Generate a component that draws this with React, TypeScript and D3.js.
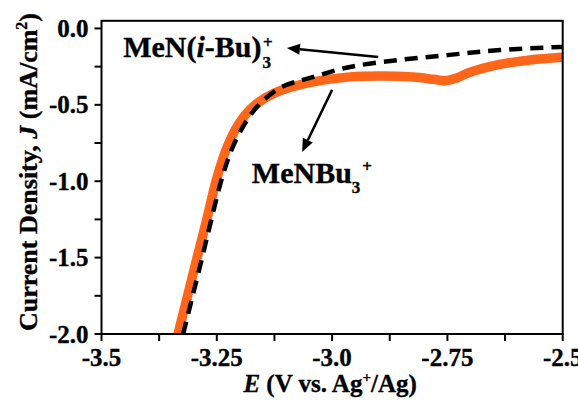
import { useEffect, useRef } from 'react';
import * as d3 from 'd3';

// MeNBu3+ (orange, solid)
const buPotential = [-3.334, -3.294, -3.272, -3.251, -3.230, -3.204, -3.172, -3.124, -3.052, -2.961, -2.895, -2.825, -2.78, -2.755, -2.73, -2.707, -2.642, -2.571, -2.501];
const buCurrent = [-2.0, -1.515, -1.253, -0.992, -0.795, -0.632, -0.514, -0.422, -0.357, -0.317, -0.311, -0.318, -0.333, -0.342, -0.325, -0.293, -0.239, -0.206, -0.188];

// MeN(i-Bu)3+ (black, dashed)
const iBuPotential = [-3.323, -3.283, -3.262, -3.240, -3.218, -3.191, -3.161, -3.113, -3.048, -2.961, -2.853, -2.745, -2.636, -2.501];
const iBuCurrent = [-2.0, -1.515, -1.253, -0.992, -0.795, -0.632, -0.507, -0.389, -0.324, -0.252, -0.206, -0.173, -0.141, -0.121];

const xTicks = [-3.5, -3.25, -3.0, -2.75, -2.5];
const xTickLabels = ['-3.5', '-3.25', '-3.0', '-2.75', '-2.5'];
const xMinor = [-3.375, -3.125, -2.875, -2.625];
const yTicks = [0, -0.5, -1.0, -1.5, -2.0];
const yTickLabels = ['0.0', '-0.5', '-1.0', '-1.5', '-2.0'];
const yMinor = [-0.25, -0.75, -1.25, -1.75];

const FONT = '"Liberation Serif", "Times New Roman", Times, serif';

export default function App() {
  const ref = useRef<SVGSVGElement>(null);

  useEffect(() => {
    if (!ref.current) return;
    const svg = d3.select(ref.current);
    svg.selectAll('*').remove();

    const left = 101.5, right = 562.7, top = 20.8, bottom = 334;
    const x = d3.scaleLinear().domain([-3.5, -2.5]).range([left, right]);
    const y = d3.scaleLinear().domain([-2.0, 0.05]).range([bottom, top]);

    const line = d3.line<[number, number]>()
      .x(d => x(d[0]))
      .y(d => y(d[1]))
      .curve(d3.curveCatmullRom.alpha(0.5));

    const clip = svg.append('defs').append('clipPath').attr('id', 'plot-clip');
    clip.append('rect').attr('x', left).attr('y', top).attr('width', right - left).attr('height', bottom - top);

    const plot = svg.append('g').attr('clip-path', 'url(#plot-clip)');

    plot.append('path')
      .datum(buPotential.map((v, i) => [v, buCurrent[i]] as [number, number]))
      .attr('d', line)
      .attr('fill', 'none')
      .attr('stroke', '#ff661a')
      .attr('stroke-width', 9.5);

    plot.append('path')
      .datum(iBuPotential.map((v, i) => [v, iBuCurrent[i]] as [number, number]))
      .attr('d', line)
      .attr('fill', 'none')
      .attr('stroke', '#000')
      .attr('stroke-width', 4.5)
      .attr('stroke-dasharray', '13,8');

    // frame
    svg.append('rect')
      .attr('x', left).attr('y', top)
      .attr('width', right - left).attr('height', bottom - top)
      .attr('fill', 'none').attr('stroke', '#000').attr('stroke-width', 2);

    const boldText = (sel: any, size: number) => sel
      .style('font-family', FONT)
      .style('font-weight', 'bold')
      .style('font-size', size + 'px')
      .attr('stroke', '#000')
      .attr('stroke-width', 0.35);

    // x axis ticks
    const tickLen = 7;
    svg.append('g').selectAll('line')
      .data([...xTicks, ...xMinor])
      .enter().append('line')
      .attr('x1', d => x(d)).attr('x2', d => x(d))
      .attr('y1', bottom).attr('y2', bottom + tickLen)
      .attr('stroke', '#000').attr('stroke-width', 2);

    boldText(svg.append('g').selectAll('text')
      .data(xTicks)
      .enter().append('text')
      .attr('x', d => x(d))
      .attr('y', bottom + 32)
      .attr('text-anchor', 'middle')
      .text((d, i) => xTickLabels[i]), 25);

    // y axis ticks
    svg.append('g').selectAll('line')
      .data([...yTicks, ...yMinor])
      .enter().append('line')
      .attr('x1', left - tickLen).attr('x2', left)
      .attr('y1', d => y(d)).attr('y2', d => y(d))
      .attr('stroke', '#000').attr('stroke-width', 2);

    boldText(svg.append('g').selectAll('text')
      .data(yTicks)
      .enter().append('text')
      .attr('x', left - 13)
      .attr('y', d => y(d) + 8.5)
      .attr('text-anchor', 'end')
      .text((d, i) => yTickLabels[i]), 25);

    // x axis title
    const xt = boldText(svg.append('text')
      .attr('x', (left + right) / 2 - 2)
      .attr('y', 392)
      .attr('text-anchor', 'middle'), 25);
    xt.append('tspan').style('font-style', 'italic').text('E');
    xt.append('tspan').text(' (V vs. Ag');
    xt.append('tspan').attr('dy', -10).style('font-size', '15px').text('+');
    xt.append('tspan').attr('dy', 10).text('/Ag)');

    // y axis title
    const yt = boldText(svg.append('text')
      .attr('transform', 'translate(37,172) rotate(-90)')
      .attr('text-anchor', 'middle'), 26);
    yt.append('tspan').text('Current Density, ');
    yt.append('tspan').style('font-style', 'italic').text('J');
    yt.append('tspan').text(' (mA/cm');
    yt.append('tspan').attr('dy', -10).style('font-size', '16px').text('2');
    yt.append('tspan').attr('dy', 10).text(')');

    // annotations
    const label1 = boldText(svg.append('text')
      .attr('x', x(-3.453)).attr('y', y(-0.187)), 30);
    label1.append('tspan').text('MeN(');
    label1.append('tspan').style('font-style', 'italic').text('i');
    label1.append('tspan').text('-Bu)');
    const w1 = (label1.node() as SVGTextElement).getComputedTextLength();
    boldText(svg.append('text')
      .attr('x', x(-3.453) + w1 + 1).attr('y', y(-0.187) + 11)
      .text('3'), 17);
    boldText(svg.append('text')
      .attr('x', x(-3.453) + w1 + 1.5).attr('y', y(-0.187) - 9)
      .text('+'), 17);

    const label2 = boldText(svg.append('text')
      .attr('x', x(-3.174)).attr('y', y(-1.011)), 30);
    label2.append('tspan').text('MeNBu');
    label2.append('tspan').attr('dy', 10).style('font-size', '17px').text('3');
    label2.append('tspan').attr('dy', -21).attr('dx', 2).style('font-size', '17px').text('+');

    const arrow = (x1: number, y1: number, x2: number, y2: number) => {
      const px1 = x(x1), py1 = y(y1), px2 = x(x2), py2 = y(y2);
      const ang = Math.atan2(py2 - py1, px2 - px1);
      const hl = 13, hw = 5.5;
      const bx = px2 - hl * Math.cos(ang), by = py2 - hl * Math.sin(ang);
      svg.append('line')
        .attr('x1', px1).attr('y1', py1).attr('x2', bx).attr('y2', by)
        .attr('stroke', '#000').attr('stroke-width', 2.5);
      const nx = -Math.sin(ang), ny = Math.cos(ang);
      svg.append('polygon')
        .attr('points', `${px2},${py2} ${bx + nx * hw},${by + ny * hw} ${bx - nx * hw},${by - ny * hw}`)
        .attr('fill', '#000');
    };
    arrow(-2.9, -0.187, -3.098, -0.128);
    arrow(-3.0, -0.402, -3.065, -0.808);
  }, []);

  return (
    <svg
      ref={ref}
      width={578}
      height={400}
      style={{ position: 'absolute', left: 0, top: 0, background: '#fff' }}
    />
  );
}
